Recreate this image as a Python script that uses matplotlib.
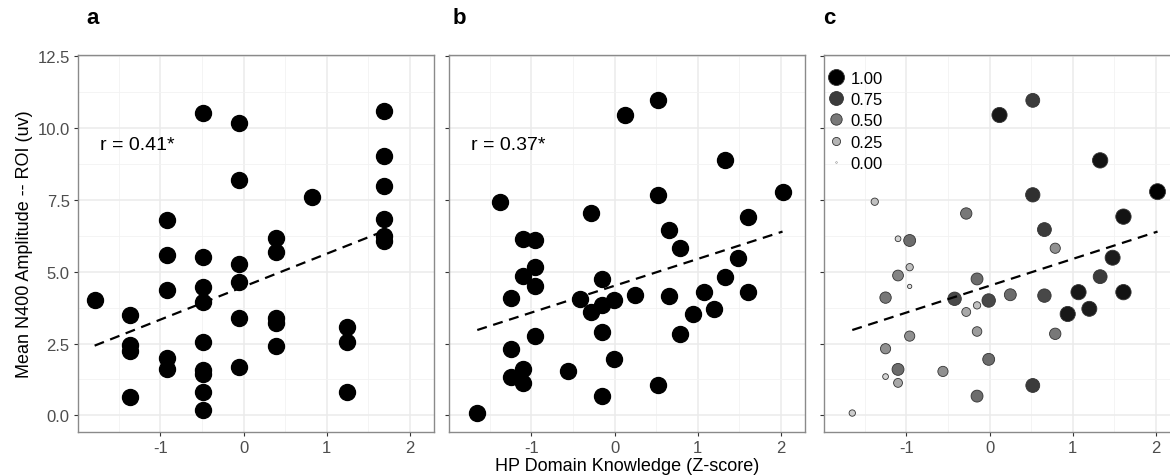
import numpy as np
import matplotlib
matplotlib.use("Agg")
import matplotlib.pyplot as plt
from matplotlib.colors import LinearSegmentedColormap
from matplotlib.lines import Line2D
from matplotlib.ticker import MultipleLocator

plt.rcParams['font.family'] = ['Liberation Sans', 'DejaVu Sans']

# panel a: knowledge z-score vs N400 amplitude
a_x = [-1.79, -1.36, -1.36, -1.36, -1.36,
       -0.92, -0.92, -0.92, -0.92, -0.92,
       -0.49, -0.49, -0.49, -0.49, -0.49, -0.49, -0.49, -0.49, -0.49,
       -0.05, -0.05, -0.05, -0.05, -0.05, -0.05,
       0.39, 0.39, 0.39, 0.39, 0.39,
       0.82,
       1.25, 1.25, 1.25,
       1.69, 1.69, 1.69, 1.69, 1.69, 1.69]
a_y = [4.02, 3.48, 2.46, 2.23, 0.64,
       6.81, 5.60, 4.38, 2.00, 1.60,
       10.53, 5.52, 4.47, 3.94, 2.55, 1.59, 1.45, 0.81, 0.17,
       10.18, 8.19, 5.27, 4.66, 3.39, 1.69,
       6.17, 5.70, 3.39, 3.22, 2.41,
       7.62,
       3.07, 2.55, 0.81,
       10.60, 9.02, 8.00, 6.85, 6.26, 6.08]

# panel b / c
b_x = [-1.65, -1.38, -1.25, -1.25, -1.25, -1.10, -1.10, -1.10, -1.10,
       -0.96, -0.96, -0.96, -0.96, -0.56, -0.42, -0.28, -0.28,
       -0.15, -0.15, -0.15, -0.15, -0.01, -0.01, 0.12, 0.25,
       0.52, 0.52, 0.52, 0.66, 0.66, 0.79, 0.79, 0.94, 1.07, 1.20,
       1.33, 1.33, 1.48, 1.61, 1.61, 2.02]
b_y = [0.08, 7.44, 4.10, 2.32, 1.35, 6.15, 4.87, 1.60, 1.13,
       6.09, 5.16, 4.49, 2.76, 1.53, 4.06, 7.03, 3.60,
       4.75, 3.83, 2.92, 0.67, 4.00, 1.95, 10.46, 4.20,
       10.97, 7.68, 1.04, 6.47, 4.17, 5.82, 2.84, 3.53, 4.29, 3.71,
       8.88, 4.83, 5.49, 6.92, 4.29, 7.79]
c_w = [0.15, 0.20, 0.50, 0.40, 0.12, 0.12, 0.45, 0.55, 0.30,
       0.55, 0.20, 0.06, 0.40, 0.40, 0.70, 0.50, 0.30,
       0.55, 0.20, 0.35, 0.55, 0.70, 0.55, 0.90, 0.55,
       0.75, 0.80, 0.75, 0.75, 0.70, 0.40, 0.50, 0.90, 0.90, 0.88,
       0.92, 0.75, 0.88, 0.92, 0.92, 1.00]

r_labels = ["r = 0.41*", "r = 0.37*"]
legend_vals = [1.00, 0.75, 0.50, 0.25, 0.00]
panel_tags = ["a", "b", "c"]

W, H = 1170, 477
fig = plt.figure(figsize=(W / 100, H / 100), dpi=100)

bottom = (H - 433) / H
height = (433 - 56) / H
width = 356 / W
lefts = [78 / W, 449 / W, 824 / W]
axes = [fig.add_axes([l, bottom, width, height]) for l in lefts]

grays = LinearSegmentedColormap.from_list("g", ["#f0f0f0", "#000000"])


def size_of(w):
    return 1.5 + 131 * np.asarray(w)


for i, ax in enumerate(axes):
    ax.set_xlim(-1.99, 2.29)
    ax.set_ylim(-0.58, 12.55)
    ax.xaxis.set_major_locator(MultipleLocator(1))
    ax.xaxis.set_minor_locator(MultipleLocator(0.5))
    ax.yaxis.set_major_locator(MultipleLocator(2.5))
    ax.yaxis.set_minor_locator(MultipleLocator(1.25))
    ax.grid(which='major', color='#ebebeb', lw=1.1)
    ax.grid(which='minor', color='#f2f2f2', lw=0.6)
    ax.set_axisbelow(True)
    for s in ax.spines.values():
        s.set_color('#8a8a8a')
        s.set_linewidth(1.0)
    ax.tick_params(which='major', length=3, width=0.8, color='#333333',
                   labelcolor='#4d4d4d', labelsize=12, pad=3)
    ax.tick_params(which='minor', length=0)
    ax.set_xticks([-1, 0, 1, 2])
    ax.set_xticklabels(['-1', '0', '1', '2'])
    if i > 0:
        ax.tick_params(labelleft=False)
    fig.text([86, 453, 823][i] / W, 1 - 18 / H, panel_tags[i],
             fontsize=16, fontweight='bold', va='center', ha='left')

# a
ax = axes[0]
ax.scatter(a_x, a_y, s=132, color='black', zorder=3)
k, m = np.polyfit(a_x, a_y, 1)
xx = np.array([min(a_x), max(a_x)])
ax.plot(xx, k * xx + m, color='black', lw=1.6, ls=(0, (4.5, 3)), zorder=4)
ax.text(-1.72, 9.45, r_labels[0], fontsize=14, va='center', ha='left')
ax.set_ylabel("Mean N400 Amplitude -- ROI (uv)", fontsize=13, labelpad=3)

# b
ax = axes[1]
ax.scatter(b_x, b_y, s=132, color='black', zorder=3)
k, m = np.polyfit(b_x, b_y, 1)
xx = np.array([min(b_x), max(b_x)])
ax.plot(xx, k * xx + m, color='black', lw=1.6, ls=(0, (4.5, 3)), zorder=4)
ax.text(-1.72, 9.45, r_labels[1], fontsize=14, va='center', ha='left')
ax.set_xlabel("HP Domain Knowledge (Z-score)", fontsize=13, labelpad=1)

# c
ax = axes[2]
ax.scatter(b_x, b_y, s=size_of(c_w), c=c_w, cmap=grays, vmin=0, vmax=1,
           edgecolors='#333333', linewidths=0.6, zorder=3)
ax.plot(xx, k * xx + m, color='black', lw=1.6, ls=(0, (4.5, 3)), zorder=4)
handles = [Line2D([], [], ls='', marker='o',
                  markersize=max(np.sqrt(size_of(v)), 1.2),
                  markerfacecolor=grays(v), markeredgecolor='#333333',
                  markeredgewidth=0.6 if v > 0 else 0.2)
           for v in legend_vals]
ax.legend(handles, [f"{v:.2f}" for v in legend_vals], loc='upper left',
          bbox_to_anchor=(0.0, 0.972), frameon=False, fontsize=12,
          handlelength=0.8, handletextpad=0.5, labelspacing=0.38,
          borderpad=0.3, borderaxespad=0)

fig.savefig("out.png", dpi=100)
